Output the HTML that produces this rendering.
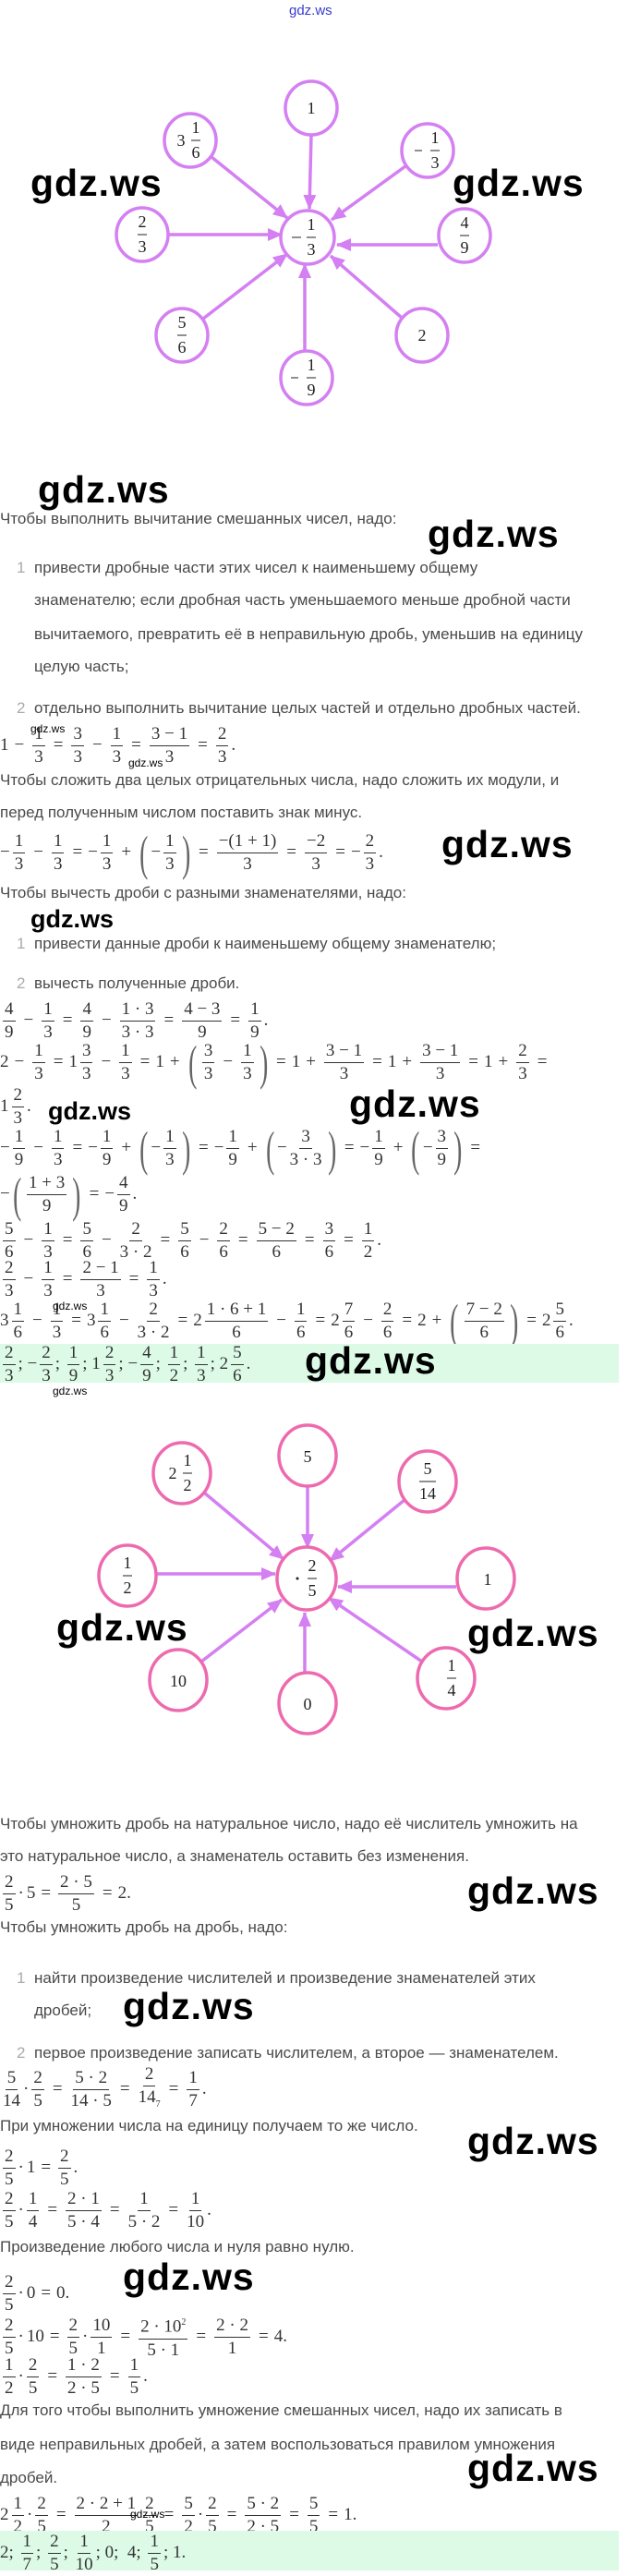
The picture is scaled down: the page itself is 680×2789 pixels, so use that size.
<!DOCTYPE html>
<html><head><meta charset="utf-8">
<style>
body{margin:0;width:680px;height:2783px;position:relative;background:#fff;overflow:hidden}
.t{position:absolute;left:0;font:17px "Liberation Sans",sans-serif;color:#4a4a4a;line-height:20px;white-space:nowrap}
.n{position:absolute;left:18px;font:17px "Liberation Sans",sans-serif;color:#aaa;line-height:20px}
.w{position:absolute;font-family:"Liberation Sans",sans-serif;font-weight:bold;font-size:41px;letter-spacing:1px;color:#000;line-height:1;white-space:nowrap}
.ws{font-size:27px;letter-spacing:0}
.wt{font-size:12px;letter-spacing:0;font-weight:normal}
.m{position:absolute;left:0;font:19px "Liberation Serif",serif;color:#333;display:flex;align-items:center;white-space:nowrap;height:0}
.f{display:inline-flex;flex-direction:column;align-items:center;line-height:25px;margin:0 3px}
.f i{font-style:normal;border-bottom:1px solid #333;padding:0 2px;line-height:24px}
.f b{font-weight:normal;line-height:24px}
.o{margin:0 6px}
.p{font-size:46px;color:#666;display:inline-block;transform:scale(0.6,1.15)}
.g{position:absolute;left:0;width:670px;background:#dcfae6}
</style></head><body>

<div style="position:absolute;left:313px;top:3px;font:15px 'Liberation Sans',sans-serif;color:#3a3ad0">gdz.ws</div>

<svg style="position:absolute;left:0;top:0" width="680" height="440" font-family="Liberation Serif" font-size="18" text-anchor="middle" fill="#222">
<defs><marker id="a1" markerUnits="userSpaceOnUse" markerWidth="16" markerHeight="14" refX="15" refY="7" orient="auto"><path d="M0,0 L16,7 L0,14 z" fill="#d47ff2"/></marker></defs>
<g stroke="#d47ff2" stroke-width="3.5" marker-end="url(#a1)">
<line x1="337" y1="146" x2="335" y2="226"/>
<line x1="229" y1="170" x2="311" y2="236"/>
<line x1="439" y1="180" x2="359" y2="238"/>
<line x1="183" y1="254" x2="305" y2="254"/>
<line x1="474" y1="265" x2="365" y2="265"/>
<line x1="220" y1="345" x2="311" y2="275"/>
<line x1="330" y1="380" x2="330" y2="286"/>
<line x1="435" y1="344" x2="358" y2="277"/>
</g>
<g fill="#fff" stroke="#d47ff2" stroke-width="3.5">
<ellipse cx="333" cy="257" rx="29" ry="29"/>
<ellipse cx="337" cy="117" rx="28" ry="29"/>
<ellipse cx="206" cy="152" rx="28" ry="29"/>
<ellipse cx="463" cy="163" rx="28" ry="29"/>
<ellipse cx="154" cy="254" rx="28" ry="29"/>
<ellipse cx="503" cy="255" rx="28" ry="29"/>
<ellipse cx="197" cy="363" rx="28" ry="29"/>
<ellipse cx="332" cy="409" rx="28" ry="29"/>
<ellipse cx="457" cy="363" rx="28" ry="29"/>
</g>
<g stroke="#222" stroke-width="1">
<line x1="332" y1="257" x2="342" y2="257"/><line x1="316" y1="257" x2="326" y2="257"/>
<line x1="207" y1="152" x2="217" y2="152"/>
<line x1="466" y1="163" x2="476" y2="163"/><line x1="449" y1="163" x2="457" y2="163"/>
<line x1="149" y1="254" x2="159" y2="254"/>
<line x1="498" y1="255" x2="508" y2="255"/>
<line x1="192" y1="363" x2="202" y2="363"/>
<line x1="332" y1="409" x2="342" y2="409"/><line x1="315" y1="409" x2="323" y2="409"/>
</g>
<text x="337" y="249">1</text><text x="337" y="276">3</text>
<text x="337" y="123">1</text>
<text x="196" y="158">3</text><text x="212" y="144">1</text><text x="212" y="171">6</text>
<text x="471" y="155">1</text><text x="471" y="182">3</text>
<text x="154" y="246">2</text><text x="154" y="273">3</text>
<text x="503" y="247">4</text><text x="503" y="274">9</text>
<text x="197" y="355">5</text><text x="197" y="382">6</text>
<text x="337" y="401">1</text><text x="337" y="428">9</text>
<text x="457" y="369">2</text>
</svg>

<div class="w" style="left:33px;top:178px">gdz.ws</div>
<div class="w" style="left:490px;top:178px">gdz.ws</div>

<div class="w" style="left:41px;top:510px">gdz.ws</div>
<div class="t" style="top:552px">Чтобы выполнить вычитание смешанных чисел, надо:</div>
<div class="w" style="left:463px;top:558px">gdz.ws</div>
<div class="n" style="top:605px">1</div>
<div class="t" style="left:37px;top:605px">привести дробные части этих чисел к наименьшему общему</div>
<div class="t" style="left:37px;top:640px">знаменателю; если дробная часть уменьшаемого меньше дробной части</div>
<div class="t" style="left:37px;top:677px">вычитаемого, превратить её в неправильную дробь, уменьшив на единицу</div>
<div class="t" style="left:37px;top:712px">целую часть;</div>
<div class="n" style="top:757px">2</div>
<div class="t" style="left:37px;top:757px">отдельно выполнить вычитание целых частей и отдельно дробных частей.</div>

<div class="m" style="top:807px">1<span class="o">−</span><span class="f"><i>1</i><b>3</b></span><span class="o">=</span><span class="f"><i>3</i><b>3</b></span><span class="o">−</span><span class="f"><i>1</i><b>3</b></span><span class="o">=</span><span class="f"><i>3 − 1</i><b>3</b></span><span class="o">=</span><span class="f"><i>2</i><b>3</b></span>.</div>
<div class="w wt" style="left:33px;top:783px">gdz.ws</div>
<div class="w wt" style="left:139px;top:820px">gdz.ws</div>

<div class="t" style="top:835px">Чтобы сложить два целых отрицательных числа, надо сложить их модули, и</div>
<div class="t" style="top:870px">перед полученным числом поставить знак минус.</div>
<div class="m" style="top:923px">−<span class="f"><i>1</i><b>3</b></span><span class="o">−</span><span class="f"><i>1</i><b>3</b></span><span class="o">=</span>−<span class="f"><i>1</i><b>3</b></span><span class="o">+</span><span class="p">(</span>−<span class="f"><i>1</i><b>3</b></span><span class="p">)</span><span class="o">=</span><span class="f"><i>−(1 + 1)</i><b>3</b></span><span class="o">=</span><span class="f"><i>−2</i><b>3</b></span><span class="o">=</span>−<span class="f"><i>2</i><b>3</b></span>.</div>
<div class="w" style="left:478px;top:894px">gdz.ws</div>
<div class="t" style="top:957px">Чтобы вычесть дроби с разными знаменателями, надо:</div>
<div class="w ws" style="left:33px;top:982px">gdz.ws</div>
<div class="n" style="top:1012px">1</div>
<div class="t" style="left:37px;top:1012px">привести данные дроби к наименьшему общему знаменателю;</div>
<div class="n" style="top:1055px">2</div>
<div class="t" style="left:37px;top:1055px">вычесть полученные дроби.</div>

<div class="m" style="top:1105px"><span class="f"><i>4</i><b>9</b></span><span class="o">−</span><span class="f"><i>1</i><b>3</b></span><span class="o">=</span><span class="f"><i>4</i><b>9</b></span><span class="o">−</span><span class="f"><i>1 · 3</i><b>3 · 3</b></span><span class="o">=</span><span class="f"><i>4 − 3</i><b>9</b></span><span class="o">=</span><span class="f"><i>1</i><b>9</b></span>.</div>
<div class="m" style="top:1150px">2<span class="o">−</span><span class="f"><i>1</i><b>3</b></span><span class="o">=</span>1<span class="f"><i>3</i><b>3</b></span><span class="o">−</span><span class="f"><i>1</i><b>3</b></span><span class="o">=</span>1<span class="o">+</span><span class="p">(</span><span class="f"><i>3</i><b>3</b></span><span class="o">−</span><span class="f"><i>1</i><b>3</b></span><span class="p">)</span><span class="o">=</span>1<span class="o">+</span><span class="f"><i>3 − 1</i><b>3</b></span><span class="o">=</span>1<span class="o">+</span><span class="f"><i>3 − 1</i><b>3</b></span><span class="o">=</span>1<span class="o">+</span><span class="f"><i>2</i><b>3</b></span><span class="o">=</span></div>
<div class="m" style="top:1198px">1<span class="f"><i>2</i><b>3</b></span>.</div>
<div class="w ws" style="left:52px;top:1190px">gdz.ws</div>
<div class="w" style="left:378px;top:1175px">gdz.ws</div>
<div class="m" style="top:1243px">−<span class="f"><i>1</i><b>9</b></span><span class="o">−</span><span class="f"><i>1</i><b>3</b></span><span class="o">=</span>−<span class="f"><i>1</i><b>9</b></span><span class="o">+</span><span class="p">(</span>−<span class="f"><i>1</i><b>3</b></span><span class="p">)</span><span class="o">=</span>−<span class="f"><i>1</i><b>9</b></span><span class="o">+</span><span class="p">(</span>−<span class="f"><i>3</i><b>3 · 3</b></span><span class="p">)</span><span class="o">=</span>−<span class="f"><i>1</i><b>9</b></span><span class="o">+</span><span class="p">(</span>−<span class="f"><i>3</i><b>9</b></span><span class="p">)</span><span class="o">=</span></div>
<div class="m" style="top:1293px">−<span class="p">(</span><span class="f"><i>1 + 3</i><b>9</b></span><span class="p">)</span><span class="o">=</span>−<span class="f"><i>4</i><b>9</b></span>.</div>
<div class="m" style="top:1343px"><span class="f"><i>5</i><b>6</b></span><span class="o">−</span><span class="f"><i>1</i><b>3</b></span><span class="o">=</span><span class="f"><i>5</i><b>6</b></span><span class="o">−</span><span class="f"><i>2</i><b>3 · 2</b></span><span class="o">=</span><span class="f"><i>5</i><b>6</b></span><span class="o">−</span><span class="f"><i>2</i><b>6</b></span><span class="o">=</span><span class="f"><i>5 − 2</i><b>6</b></span><span class="o">=</span><span class="f"><i>3</i><b>6</b></span><span class="o">=</span><span class="f"><i>1</i><b>2</b></span>.</div>
<div class="m" style="top:1385px"><span class="f"><i>2</i><b>3</b></span><span class="o">−</span><span class="f"><i>1</i><b>3</b></span><span class="o">=</span><span class="f"><i>2 − 1</i><b>3</b></span><span class="o">=</span><span class="f"><i>1</i><b>3</b></span>.</div>
<div class="m" style="top:1430px">3<span class="f"><i>1</i><b>6</b></span><span class="o">−</span><span class="f"><i>1</i><b>3</b></span><span class="o">=</span>3<span class="f"><i>1</i><b>6</b></span><span class="o">−</span><span class="f"><i>2</i><b>3 · 2</b></span><span class="o">=</span>2<span class="f"><i>1 · 6 + 1</i><b>6</b></span><span class="o">−</span><span class="f"><i>1</i><b>6</b></span><span class="o">=</span>2<span class="f"><i>7</i><b>6</b></span><span class="o">−</span><span class="f"><i>2</i><b>6</b></span><span class="o">=</span>2<span class="o">+</span><span class="p">(</span><span class="f"><i>7 − 2</i><b>6</b></span><span class="p">)</span><span class="o">=</span>2<span class="f"><i>5</i><b>6</b></span>.</div>
<div class="w wt" style="left:57px;top:1408px">gdz.ws</div>

<div class="g" style="top:1455px;height:42px"></div>
<div class="m" style="top:1477px"><span class="f"><i>2</i><b>3</b></span>;&nbsp;−<span class="f"><i>2</i><b>3</b></span>;&nbsp;<span class="f"><i>1</i><b>9</b></span>;&nbsp;1<span class="f"><i>2</i><b>3</b></span>;&nbsp;−<span class="f"><i>4</i><b>9</b></span>;&nbsp;<span class="f"><i>1</i><b>2</b></span>;&nbsp;<span class="f"><i>1</i><b>3</b></span>;&nbsp;2<span class="f"><i>5</i><b>6</b></span>.</div>
<div class="w" style="left:330px;top:1453px">gdz.ws</div>
<div class="w wt" style="left:57px;top:1500px">gdz.ws</div>

<svg style="position:absolute;left:0;top:1500px" width="680" height="400" font-family="Liberation Serif" font-size="18" text-anchor="middle" fill="#222">
<defs><marker id="a2" markerUnits="userSpaceOnUse" markerWidth="16" markerHeight="14" refX="15" refY="7" orient="auto"><path d="M0,0 L16,7 L0,14 z" fill="#d47ff2"/></marker></defs>
<g stroke="#d47ff2" stroke-width="3.5" marker-end="url(#a2)">
<line x1="333" y1="108" x2="333" y2="176"/>
<line x1="221" y1="116" x2="307" y2="188"/>
<line x1="438" y1="124" x2="357" y2="190"/>
<line x1="170" y1="204" x2="298" y2="204"/>
<line x1="494" y1="218" x2="366" y2="218"/>
<line x1="218" y1="299" x2="305" y2="232"/>
<line x1="330" y1="312" x2="330" y2="246"/>
<line x1="457" y1="299" x2="356" y2="230"/>
</g>
<g fill="#fff" stroke="#ee6aae" stroke-width="3.5">
<ellipse cx="332" cy="209" rx="32" ry="34"/>
<ellipse cx="333" cy="76" rx="31" ry="33"/>
<ellipse cx="197" cy="95" rx="31" ry="33"/>
<ellipse cx="463" cy="104" rx="31" ry="33"/>
<ellipse cx="138" cy="206" rx="31" ry="33"/>
<ellipse cx="526" cy="209" rx="31" ry="33"/>
<ellipse cx="193" cy="319" rx="31" ry="33"/>
<ellipse cx="333" cy="344" rx="31" ry="33"/>
<ellipse cx="483" cy="317" rx="31" ry="33"/>
</g>
<g stroke="#222" stroke-width="1">
<line x1="333" y1="209" x2="343" y2="209"/>
<line x1="198" y1="95" x2="208" y2="95"/>
<line x1="454" y1="104" x2="472" y2="104"/>
<line x1="133" y1="206" x2="143" y2="206"/>
<line x1="484" y1="317" x2="494" y2="317"/>
</g>
<circle cx="322" cy="209" r="1.5"/>
<text x="338" y="201">2</text><text x="338" y="228">5</text>
<text x="333" y="83">5</text>
<text x="187" y="101">2</text><text x="203" y="87">1</text><text x="203" y="114">2</text>
<text x="463" y="96">5</text><text x="463" y="123">14</text>
<text x="138" y="198">1</text><text x="138" y="225">2</text>
<text x="528" y="216">1</text>
<text x="193" y="326">10</text>
<text x="333" y="351">0</text>
<text x="489" y="309">1</text><text x="489" y="336">4</text>
</svg>
<div class="w" style="left:61px;top:1742px">gdz.ws</div>
<div class="w" style="left:506px;top:1748px">gdz.ws</div>

<div class="t" style="top:1965px">Чтобы умножить дробь на натуральное число, надо её числитель умножить на</div>
<div class="t" style="top:2000px">это натуральное число, а знаменатель оставить без изменения.</div>
<div class="m" style="top:2050px"><span class="f"><i>2</i><b>5</b></span>·<span class="o" style="margin-left:3px">5</span>=<span class="f" style="margin-left:8px"><i>2 · 5</i><b>5</b></span><span class="o">=</span>2.</div>
<div class="w" style="left:506px;top:2027px">gdz.ws</div>
<div class="t" style="top:2077px">Чтобы умножить дробь на дробь, надо:</div>
<div class="n" style="top:2132px">1</div>
<div class="t" style="left:37px;top:2132px">найти произведение числителей и произведение знаменателей этих</div>
<div class="t" style="left:37px;top:2167px">дробей;</div>
<div class="w" style="left:133px;top:2152px">gdz.ws</div>
<div class="n" style="top:2213px">2</div>
<div class="t" style="left:37px;top:2213px">первое произведение записать числителем, а второе — знаменателем.</div>
<div class="m" style="top:2262px"><span class="f"><i>5</i><b>14</b></span>·<span class="f"><i>2</i><b>5</b></span><span class="o">=</span><span class="f"><i>5 · 2</i><b>14 · 5</b></span><span class="o">=</span><span class="f"><i>2</i><b>14<sub style="font-size:10px">7</sub></b></span><span class="o">=</span><span class="f"><i>1</i><b>7</b></span>.</div>
<div class="t" style="top:2292px">При умножении числа на единицу получаем то же число.</div>
<div class="w" style="left:506px;top:2298px">gdz.ws</div>
<div class="m" style="top:2347px"><span class="f"><i>2</i><b>5</b></span>·<span class="o" style="margin-left:3px">1</span>=<span class="f" style="margin-left:8px"><i>2</i><b>5</b></span>.</div>
<div class="m" style="top:2393px"><span class="f"><i>2</i><b>5</b></span>·<span class="f"><i>1</i><b>4</b></span><span class="o">=</span><span class="f"><i>2 · 1</i><b>5 · 4</b></span><span class="o">=</span><span class="f"><i>1</i><b>5 · 2</b></span><span class="o">=</span><span class="f"><i>1</i><b>10</b></span>.</div>
<div class="t" style="top:2423px">Произведение любого числа и нуля равно нулю.</div>
<div class="w" style="left:133px;top:2445px">gdz.ws</div>
<div class="m" style="top:2483px"><span class="f"><i>2</i><b>5</b></span>·<span class="o" style="margin-left:3px">0</span>=<span style="margin-left:6px">0.</span></div>
<div class="m" style="top:2530px"><span class="f"><i>2</i><b>5</b></span>·<span class="o" style="margin-left:3px">10</span>=<span class="f" style="margin-left:8px"><i>2</i><b>5</b></span>·<span class="f"><i>10</i><b>1</b></span><span class="o">=</span><span class="f"><i>2 · 10<sup style="font-size:10px">2</sup></i><b>5 · 1</b></span><span class="o">=</span><span class="f"><i>2 · 2</i><b>1</b></span><span class="o">=</span>4.</div>
<div class="m" style="top:2573px"><span class="f"><i>1</i><b>2</b></span>·<span class="f"><i>2</i><b>5</b></span><span class="o">=</span><span class="f"><i>1 · 2</i><b>2 · 5</b></span><span class="o">=</span><span class="f"><i>1</i><b>5</b></span>.</div>
<div class="t" style="top:2600px">Для того чтобы выполнить умножение смешанных чисел, надо их записать в</div>
<div class="t" style="top:2637px">виде неправильных дробей, а затем воспользоваться правилом умножения</div>
<div class="t" style="top:2673px">дробей.</div>
<div class="w" style="left:506px;top:2652px">gdz.ws</div>
<div class="m" style="top:2723px">2<span class="f"><i>1</i><b>2</b></span>·<span class="f"><i>2</i><b>5</b></span><span class="o">=</span><span class="f"><i>2 · 2 + 1</i><b>2</b></span><span class="f"><i>2</i><b>5</b></span><span class="o">=</span><span class="f"><i>5</i><b>2</b></span>·<span class="f"><i>2</i><b>5</b></span><span class="o">=</span><span class="f"><i>5 · 2</i><b>2 · 5</b></span><span class="o">=</span><span class="f"><i>5</i><b>5</b></span><span class="o">=</span>1.</div>
<div class="w wt" style="left:141px;top:2716px">gdz.ws</div>
<div class="g" style="top:2740px;height:43px"></div>
<div class="m" style="top:2764px">2;&nbsp;<span class="f"><i>1</i><b>7</b></span>;&nbsp;<span class="f"><i>2</i><b>5</b></span>;&nbsp;<span class="f"><i>1</i><b>10</b></span>;&nbsp;0;&nbsp;&nbsp;4;&nbsp;<span class="f"><i>1</i><b>5</b></span>;&nbsp;1.</div>
</body></html>
